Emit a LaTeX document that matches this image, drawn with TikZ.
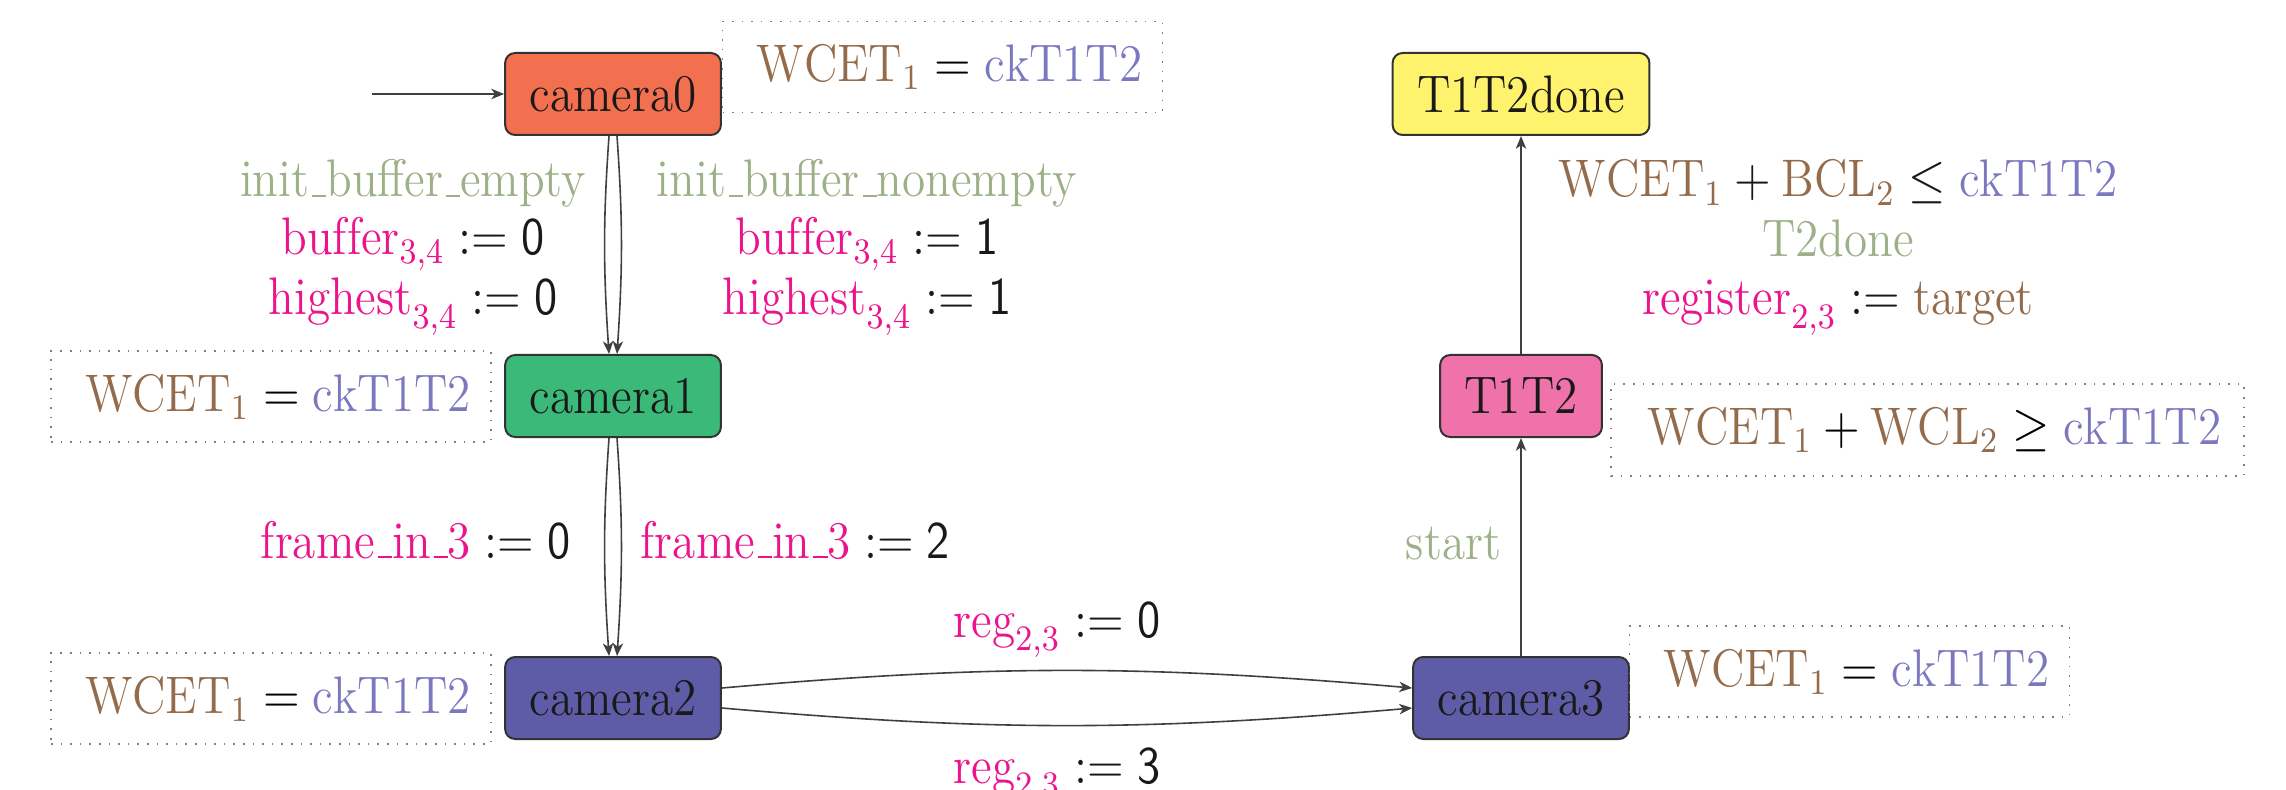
\documentclass[tikz,border=0pt]{standalone}
\usepackage{fontspec}
\usepackage{graphicx}
\usetikzlibrary{arrows.meta,bending}
\definecolor{cam0}{HTML}{F26F50}
\definecolor{cam1}{HTML}{3BB978}
\definecolor{cam2}{HTML}{5F5CA7}
\definecolor{ttc}{HTML}{F072AA}
\definecolor{ttd}{HTML}{FFF36E}
\definecolor{brn}{HTML}{946C4C}
\definecolor{ckc}{HTML}{7C78BF}
\definecolor{sage}{HTML}{9DB088}
\definecolor{mag}{HTML}{EC148C}
\newcommand{\ckv}{\textcolor{ckc}{\mathrm{ckT1T2}}}
\newcommand{\wcetv}{\textcolor{brn}{\mathrm{WCET}_1}}
\newcommand{\usc}{\leavevmode\kern.06em\vbox{\hrule width.3em}}
\newcommand{\vs}[1]{\scalebox{1}[1.12]{#1}}
\newcommand{\asg}[2]{\vs{$\textcolor{mag}{#1}\mathrel{:=}#2$}}
\begin{document}
\begin{tikzpicture}[x=0.25pt,y=-0.25pt,
  font=\fontsize{11.8}{14}\selectfont,
  state/.style={draw=black!80, line width=0.5pt, rounded corners=2.5pt,
    minimum height=20.5pt, inner xsep=6.1pt, inner ysep=0pt, text=black!90},
  annot/.style={draw=gray, dotted, line width=0.4pt, minimum width=110pt,
    minimum height=22.75pt, inner sep=0pt},
  edge/.style={draw=black!75, line width=0.4pt,
    -{Stealth[length=3.2pt,width=2.6pt,inset=0.9pt,bend]}},
  lbl/.style={inner sep=0pt, anchor=base, text=black!90}]
\useasboundingbox (0,0) rectangle (2286,790);

% states
\node[state, fill=cam0] (c0) at (613,94) {\vs{camera0}};
\node[state, fill=cam1] (c1) at (613,396) {\vs{camera1}};
\node[state, fill=cam2] (c2) at (613,698) {\vs{camera2}};
\node[state, fill=cam2] (c3) at (1521,698) {\vs{camera3}};
\node[state, fill=ttc] (t12) at (1521,396) {\vs{T1T2}};
\node[state, fill=ttd] (done) at (1521,94) {\vs{T1T2done}};

% invariants
\node[annot] (a0) at (942.5,67) {\hspace*{3.5pt}\vs{$\wcetv = \ckv$}};
\node[annot] (a1) at (271,396.5) {\hspace*{3.5pt}\vs{$\wcetv = \ckv$}};
\node[annot] (a2) at (271,698.5) {\hspace*{3.5pt}\vs{$\wcetv = \ckv$}};
\node[annot] (a3) at (1849.5,671.5) {\hspace*{3.5pt}\vs{$\wcetv = \ckv$}};
\node[annot, minimum width=158.25pt, minimum height=23pt] (a4) at (1927.5,430)
  {\hspace*{3.5pt}\vs{$\wcetv + \textcolor{brn}{\mathrm{WCL}_2} \geq \ckv$}};

% edges
\coordinate (init) at (372,94);
\draw[edge] (init) -- (c0);
\draw[edge] ([xshift=-1pt]c0.south) to[bend right=4] ([xshift=-1pt]c1.north);
\draw[edge] ([xshift=1pt]c0.south) to[bend left=4] ([xshift=1pt]c1.north);
\draw[edge] ([xshift=-1pt]c1.south) to[bend right=4] ([xshift=-1pt]c2.north);
\draw[edge] ([xshift=1pt]c1.south) to[bend left=4] ([xshift=1pt]c2.north);
\draw[edge] ([yshift=2.5pt]c2.east) to[bend left=5] ([yshift=2.5pt]c3.west);
\draw[edge] ([yshift=-2.5pt]c2.east) to[bend right=5] ([yshift=-2.5pt]c3.west);
\draw[edge] (c3) -- (t12);
\draw[edge] (t12) -- (done);

% labels c0 -> c1
\node[lbl, text=sage] (l1a) at (413,197) {\vs{init\usc buffer\usc empty}};
\node[lbl] (l1b) at (413,255) {\asg{\mathrm{buffer}_{3,4}}{\mathsf{0}}};
\node[lbl] (l1c) at (413,315) {\asg{\mathrm{highest}_{3,4}}{\mathsf{0}}};
\node[lbl, text=sage] (l2a) at (867,197) {\vs{init\usc buffer\usc nonempty}};
\node[lbl] (l2b) at (867,255) {\asg{\mathrm{buffer}_{3,4}}{\mathsf{1}}};
\node[lbl] (l2c) at (867,315) {\asg{\mathrm{highest}_{3,4}}{\mathsf{1}}};

% labels c1 -> c2
\node[lbl, anchor=base east] (l3) at (571,558) {\asg{\mbox{frame\usc in\usc 3}}{\mathsf{0}}};
\node[lbl, anchor=base west] (l4) at (640,558) {\asg{\mbox{frame\usc in\usc 3}}{\mathsf{2}}};

% labels c2 -> c3
\node[lbl] (l5) at (1057,637) {\asg{\mathrm{reg}_{2,3}}{\mathsf{0}}};
\node[lbl] (l6) at (1057,783) {\asg{\mathrm{reg}_{2,3}}{\mathsf{3}}};

% c3 -> T1T2
\node[lbl, anchor=base east, text=sage] (l7) at (1502,559) {\vs{start}};

% T1T2 -> done
\node[lbl] (l8a) at (1838,197) {\vs{$\wcetv + \textcolor{brn}{\mathrm{BCL}_2} \leq \ckv$}};
\node[lbl, text=sage] (l8b) at (1838,257) {\vs{T2done}};
\node[lbl] (l8c) at (1838,315) {\vs{$\textcolor{mag}{\mathrm{register}_{2,3}} \mathrel{:=} \textcolor{brn}{\mathrm{target}}$}};
\end{tikzpicture}
\end{document}
